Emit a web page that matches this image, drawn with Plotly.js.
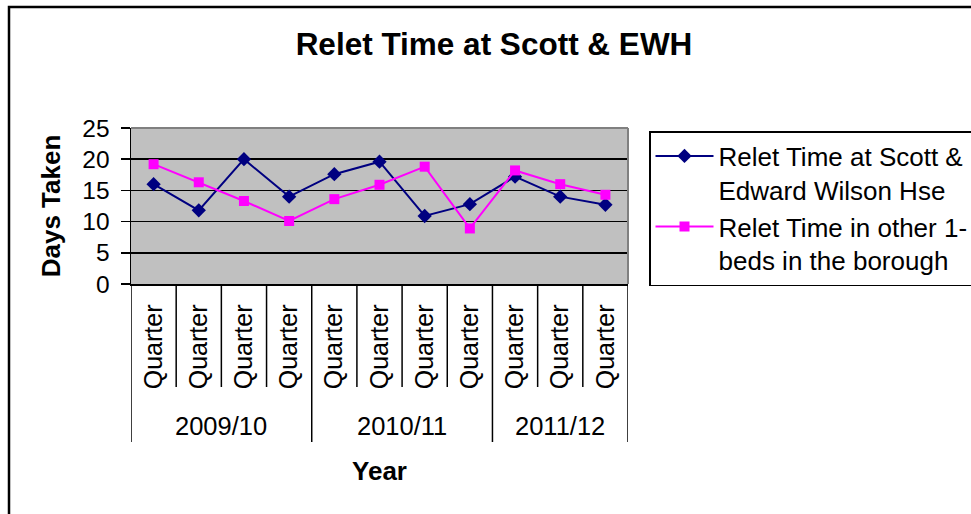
<!DOCTYPE html>
<html>
<head>
<meta charset="utf-8">
<script src="https://cdn.plot.ly/plotly-3.0.1.min.js"></script>
<style>html,body{margin:0;padding:0;background:#fff;}#chart{width:971px;height:514px;}</style>
</head>
<body>
<div id="chart"></div>
<script>
// ---- data ----
const quarterLabels = ["Quarter","Quarter","Quarter","Quarter","Quarter","Quarter","Quarter","Quarter","Quarter","Quarter","Quarter"];
const yearGroups = ["2009/10","2010/11","2011/12"];
const groupSizes = [4, 4, 3];
const scottEWH = [16.0, 11.8, 20.0, 14.0, 17.6, 19.6, 10.9, 12.8, 17.2, 14.0, 12.7];
const otherOneBeds = [19.2, 16.3, 13.3, 10.1, 13.6, 15.9, 18.8, 8.9, 18.2, 16.0, 14.3];
const seriesNames = ["Relet Time at Scott &<br>Edward Wilson Hse", "Relet Time in other 1-<br>beds in the borough"];

// ---- geometry (pixels) ----
const W = 971, H = 514;
const L = 131, R = 628, T = 128, B = 284;
const pw = R - L, ph = B - T;
const py = p => (B - p) / ph;      // pixel y -> paper y
const px = p => (p - L) / pw;      // pixel x -> paper x

const FONT = "Liberation Sans, Arial, sans-serif";
const xIdx = quarterLabels.map((_, i) => i);

const traces = [
  {x: xIdx, y: scottEWH, name: seriesNames[0], type: 'scatter', mode: 'lines+markers',
   line: {color: '#000080', width: 2}, marker: {symbol: 'diamond', size: 11, color: '#000080'}},
  {x: xIdx, y: otherOneBeds, name: seriesNames[1], type: 'scatter', mode: 'lines+markers',
   line: {color: '#FF00FF', width: 2}, marker: {symbol: 'square', size: 10, color: '#FF00FF'}}
];

// category dividers and group labels
const shapes = [];
const annotations = [];
const groupEdges = new Set([0]);
let acc = 0;
groupSizes.forEach((n, g) => {
  const start = acc; acc += n; groupEdges.add(acc);
  annotations.push({x: (start + acc - 1) / 2, xref: 'x', y: py(426), yref: 'paper',
    text: yearGroups[g], showarrow: false, font: {family: FONT, size: 25.5, color: '#000'},
    xanchor: 'center', yanchor: 'middle'});
});
for (let k = 0; k <= quarterLabels.length; k++) {
  shapes.push({type: 'line', xref: 'x', yref: 'paper', x0: k - 0.5, x1: k - 0.5,
    y0: 0, y1: groupEdges.has(k) ? py(442) : py(387), line: {color: '#000', width: 1.5}});
}
// gray border on top and right of plot area
shapes.push({type: 'line', xref: 'paper', yref: 'paper', x0: 0, x1: 1, y0: 1, y1: 1, line: {color: '#808080', width: 2}});
shapes.push({type: 'line', xref: 'paper', yref: 'paper', x0: 1, x1: 1, y0: 0, y1: 1, line: {color: '#808080', width: 2}});
// outer chart frame
shapes.push({type: 'rect', xref: 'paper', yref: 'paper', x0: px(9), x1: px(990), y0: py(540), y1: py(7),
  line: {color: '#000', width: 2.5}, fillcolor: 'rgba(0,0,0,0)'});

const layout = {
  width: W, height: H,
  margin: {l: L, r: W - R, t: T, b: H - B, autoexpand: false},
  paper_bgcolor: '#fff', plot_bgcolor: '#C0C0C0',
  font: {family: FONT, color: '#000'},
  showlegend: true,
  title: {text: 'Relet Time at Scott &amp; EWH', font: {family: FONT, size: 31.5, color: '#000', weight: 'bold'},
    xref: 'container', yref: 'container', x: 494 / W, y: 1 - 44 / H, xanchor: 'center', yanchor: 'middle'},
  xaxis: {
    range: [-0.5, quarterLabels.length - 0.5], tickmode: 'array', tickvals: xIdx, ticktext: quarterLabels,
    tickangle: -90, ticks: '', showgrid: false, zeroline: false, showline: true, linecolor: '#000', linewidth: 1.5,
    tickfont: {family: FONT, size: 25, color: '#000'}, ticklabelstandoff: 9,
    title: {text: 'Year', font: {family: FONT, size: 26, color: '#000', weight: 'bold'}, standoff: 73}
  },
  yaxis: {
    range: [0, 25], dtick: 5, tick0: 0, ticks: 'outside', ticklen: 9, tickcolor: '#000', tickwidth: 1.5,
    showgrid: true, gridcolor: '#000', gridwidth: 1.5, zeroline: false, showline: true, linecolor: '#000', linewidth: 1.5,
    tickfont: {family: FONT, size: 24.5, color: '#000'}, ticklabelstandoff: 6,
    title: {text: 'Days Taken', font: {family: FONT, size: 26, color: '#000', weight: 'bold'}, standoff: 14}
  },
  legend: {x: px(649), y: py(131), xanchor: 'left', yanchor: 'top', bordercolor: '#000', borderwidth: 1.5,
    bgcolor: '#fff', font: {family: FONT, size: 26, color: '#000'}, itemwidth: 58, valign: 'top',
    traceorder: 'normal'},
  shapes: shapes,
  annotations: annotations
};

Plotly.newPlot('chart', traces, layout, {staticPlot: true, displayModeBar: false});
</script>
</body>
</html>
